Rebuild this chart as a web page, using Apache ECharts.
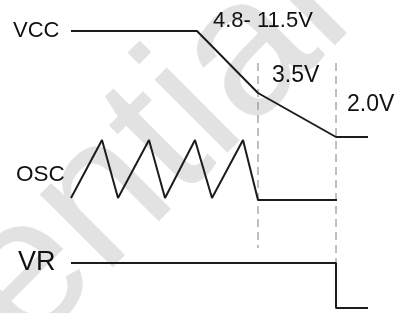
<!DOCTYPE html>
<html>
<head>
<meta charset="utf-8">
<script src="https://cdn.jsdelivr.net/npm/echarts@6/dist/echarts.min.js"></script>
<style>
  html, body { margin: 0; padding: 0; background: #fff; }
  #chart { width: 398px; height: 313px; }
</style>
</head>
<body>
<div id="chart"></div>
<script>
// signal traces, in diagram units (x = time, y = level, top = 0)
const vccT = [71, 197, 258, 336, 368]
const vccV = [31, 31, 93, 137, 137]
const oscT = [71, 102, 118, 149, 165, 195, 212, 243, 258, 337]
const oscV = [198, 140, 198, 140, 198, 140, 198, 140, 200, 200]
const vrT = [71, 336, 336, 368]
const vrV = [263, 263, 308, 308]
// dashed markers
const markT = [258, 336]
const markTop = [63, 63]
const markBottom = [248, 263]

const ink = '#1c1c1c'
const font = '"Liberation Sans", Arial, sans-serif'

function pairs(xs, ys) {
  return xs.map((x, i) => [x, ys[i]])
}

function trace(name, xs, ys) {
  return {
    name: name,
    type: 'line',
    data: pairs(xs, ys),
    showSymbol: false,
    lineStyle: { color: ink, width: 2 },
    z: 3,
  }
}

const dashed = markT.map((t, i) => ({
  type: 'line',
  data: [[t, markTop[i]], [t, markBottom[i]]],
  showSymbol: false,
  lineStyle: { color: '#808080', width: 1, type: [8, 5] },
  z: 2,
}))

function label(text, x, y, size) {
  return {
    type: 'text',
    x: x,
    y: y,
    z: 10,
    style: {
      text: text,
      fill: '#111',
      font: size + 'px ' + font,
      textAlign: 'left',
      textVerticalAlign: 'middle',
    },
  }
}

const options = {
  animation: false,
  grid: { left: 0, right: 0, top: 0, bottom: 0 },
  xAxis: { type: 'value', min: 0, max: 398, show: false },
  yAxis: { type: 'value', min: 0, max: 313, inverse: true, show: false },
  graphic: [
    {
      type: 'text',
      x: -46,
      y: 350,
      rotation: 45 * Math.PI / 180,
      z: 0,
      style: {
        text: 'Confidential',
        fill: '#e2e2e2',
        font: '195px ' + font,
        textAlign: 'center',
        textVerticalAlign: 'middle',
      },
    },
    label('VCC', 13, 31, 22),
    label('4.8- 11.5V', 213, 21, 22),
    label('3.5V', 272, 76, 23),
    label('2.0V', 347, 105, 23),
    label('OSC', 16, 175, 22.5),
    label('VR', 18, 263, 27),
  ],
  series: [
    trace('VCC', vccT, vccV),
    trace('OSC', oscT, oscV),
    trace('VR', vrT, vrV),
  ].concat(dashed),
}

let chart = echarts.init(document.getElementById('chart'))
chart.setOption(options)
</script>
</body>
</html>
